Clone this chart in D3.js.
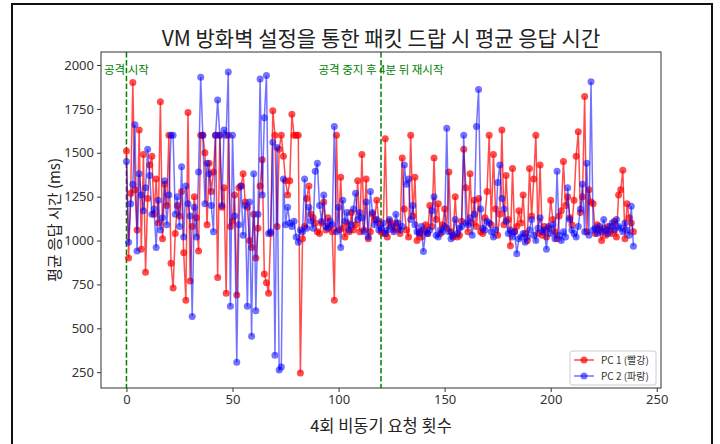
<!DOCTYPE html>
<html>
<head>
<meta charset="utf-8">
<script src="https://cdn.jsdelivr.net/npm/d3@7"></script>
<style>
  body { margin: 0; background: #fff; }
  text { font-family: "Noto Sans CJK KR", "Noto Sans", sans-serif; }
</style>
</head>
<body>
<div id="chart"></div>
<script>
// data (ms per request index 0..239)
const pc1 = [
  1510, 900, 1270, 1900, 1290, 1060, 1630, 950, 1490, 820,
  1240, 1430, 1480, 1150, 1350, 1100, 1790, 1010, 1320, 1200,
  1600, 870, 730, 1040, 1200, 1140, 1280, 930, 660, 1730,
  770, 1080, 1250, 1130, 940, 1600, 1600, 1500, 1090, 1440,
  1280, 1390, 1600, 790, 1600, 1190, 1300, 700, 1600, 1080,
  1110, 1260, 690, 1300, 1310, 1380, 1220, 1190, 1000, 960,
  1150, 900, 1070, 1310, 1460, 810, 760, 700, 1040, 1740,
  1600, 1080, 1520, 1600, 1480, 1340, 1260, 1340, 1720, 1600,
  1600, 1600, 245, 1010, 1080, 1240, 1310, 1150, 1130, 1100,
  1050, 1040, 1100, 1220, 1060, 1130, 1080, 1050, 660, 1600,
  1060, 1360, 1070, 1020, 1100, 1050, 1160, 1060, 1090, 1340,
  1050, 1490, 1060, 1350, 1010, 1050, 1150, 1120, 1230, 1100,
  1050, 1040, 1580, 1020, 1110, 1090, 1060, 1100, 1070, 1040,
  1470, 1180, 1060, 1020, 1600, 1140, 1360, 1000, 1050, 1020,
  1060, 1090, 1040, 1200, 1080, 1470, 1120, 1210, 1040, 1090,
  1180, 1070, 1390, 1050, 1020, 1250, 1020, 1030, 1110, 1520,
  1300, 1050, 1380, 1100, 1230, 1080, 1240, 1050, 1040, 1130,
  1280, 1600, 1090, 1490, 1180, 1030, 1150, 1630, 1090, 1370,
  1120, 970, 1410, 1050, 1080, 1170, 1100, 1260, 1040, 1000,
  1410, 1140, 1350, 1600, 1040, 1430, 1030, 1080, 1020, 1070,
  1230, 1120, 1050, 1010, 1140, 1170, 1450, 1200, 1250, 1130,
  1090, 1230, 1480, 1620, 1160, 1250, 1820, 1050, 1290, 1220,
  1210, 1040, 1090, 1060, 1000, 1070, 1030, 1080, 1060, 1040,
  1110, 1020, 1260, 1290, 1400, 1010, 1210, 1130, 1100, 1050
];
const pc2 = [
  1450, 990, 1210, 1320, 1660, 940, 1380, 1260, 1170, 1300,
  1520, 1370, 1150, 1180, 960, 1230, 1060, 1130, 1340, 1090,
  1260, 1600, 1600, 1150, 1250, 1080, 1420, 1020, 1310, 1210,
  1140, 568, 1190, 1020, 1390, 1930, 1600, 1210, 1440, 1380,
  1200, 1050, 1600, 1800, 1600, 1200, 1630, 1600, 1960, 625,
  1600, 1140, 307, 1090, 1310, 1030, 1200, 625, 1220, 455,
  1380, 600, 1150, 1920, 1260, 1700, 1940, 1040, 1050, 1560,
  347, 1530, 262, 280, 1350, 1090, 1190, 1100, 1080, 1110,
  1020, 990, 1060, 1050, 1350, 1070, 1190, 1110, 1070, 1395,
  1440, 1200, 1110, 1260, 1080, 1070, 1110, 1090, 1650, 1050,
  1190, 960, 1230, 1110, 1160, 1060, 1090, 1180, 1270, 1120,
  1160, 1130, 1050, 1220, 1020, 1280, 1160, 1090, 1120, 1060,
  1070, 1100, 1040, 1060, 1120, 1080, 1050, 1150, 1100, 1060,
  1080, 1430, 1320, 1350, 1120, 1200, 1090, 1050, 1040, 1080,
  937, 1050, 1040, 1060, 1170, 1250, 1030, 1020, 1060, 1050,
  1080, 1640, 1050, 1010, 1030, 1120, 1040, 1070, 1080, 1600,
  1100, 1090, 1130, 1030, 1150, 1650, 1860, 1180, 1070, 1060,
  1110, 1100, 1050, 1020, 1060, 1330, 1430, 1240, 1180, 1110,
  1040, 1060, 1020, 1050, 925, 1010, 1020, 1040, 990, 1020,
  1060, 1120, 1030, 1000, 1070, 1130, 1050, 1060, 950, 1080,
  1040, 1090, 1010, 1395, 1030, 1000, 1050, 1020, 1300, 1120,
  1060, 1040, 1020, 1080, 1180, 1320, 1050, 1440, 1030, 1905,
  1060, 1070, 1040, 1080, 1050, 1120, 1060, 1040, 1080, 1100,
  1060, 1120, 1080, 1070, 1050, 1100, 1060, 1030, 1195, 968
];
const xTicks = [0, 50, 100, 150, 200, 250];
const yTicks = [250, 500, 750, 1000, 1250, 1500, 1750, 2000];
const markers = [
  { x: 0, label: "공격 시작" },
  { x: 120, label: "공격 중지 후 4분 뒤 재시작" }
];
const seriesNames = ["PC 1 (빨강)", "PC 2 (파랑)"];

const width = 720, height = 444;
const margin = { top: 52, right: 59, bottom: 56, left: 101 };

const svg = d3.select("#chart").append("svg")
  .attr("width", width)
  .attr("height", height);

// outer frame of the screenshot
svg.append("rect")
  .attr("x", 12).attr("y", 4)
  .attr("width", 700).attr("height", 460)
  .attr("fill", "none")
  .attr("stroke", "#111")
  .attr("stroke-width", 2);

const x = d3.scaleLinear().domain([-12, 252]).range([margin.left, width - margin.right]);
const y = d3.scaleLinear().domain([160, 2074]).range([height - margin.bottom, margin.top]);

// axes
const xAxis = svg.append("g")
  .attr("transform", `translate(0, ${height - margin.bottom})`)
  .call(d3.axisBottom(x).tickValues(xTicks).tickSize(4).tickPadding(3));
const yAxis = svg.append("g")
  .attr("transform", `translate(${margin.left}, 0)`)
  .call(d3.axisLeft(y).tickValues(yTicks).tickFormat(d3.format("d")).tickSize(4).tickPadding(3));
[xAxis, yAxis].forEach(g => {
  g.select(".domain").remove();
  g.selectAll("line").attr("stroke", "#333");
  g.selectAll("text").attr("font-size", 13).attr("fill", "#333")
    .style("font-family", "'Noto Sans', sans-serif");
});

// dashed markers + labels
markers.forEach(m => {
  svg.append("line")
    .attr("x1", x(m.x)).attr("x2", x(m.x))
    .attr("y1", margin.top).attr("y2", height - margin.bottom)
    .attr("stroke", "green")
    .attr("stroke-width", 1.5)
    .attr("stroke-dasharray", "5.5,2.4");
  svg.append("text")
    .attr("x", x(m.x)).attr("y", y(1950))
    .attr("text-anchor", "middle")
    .attr("font-size", 11.5)
    .attr("fill", "green")
    .text(m.label);
});

const line = d3.line().x((d, i) => x(i)).y(d => y(d));

function drawSeries(data, color, alpha) {
  svg.append("path")
    .datum(data)
    .attr("fill", "none")
    .attr("stroke", color)
    .attr("stroke-opacity", alpha)
    .attr("stroke-width", 1.5)
    .attr("d", line);
  svg.append("g").selectAll("circle")
    .data(data)
    .join("circle")
    .attr("cx", (d, i) => x(i))
    .attr("cy", d => y(d))
    .attr("r", 3.5)
    .attr("fill", color)
    .attr("fill-opacity", alpha);
}
drawSeries(pc1, "#ff0000", 0.7);
drawSeries(pc2, "#0000ff", 0.55);

// plot frame
svg.append("rect")
  .attr("x", margin.left).attr("y", margin.top)
  .attr("width", width - margin.left - margin.right)
  .attr("height", height - margin.top - margin.bottom)
  .attr("fill", "none")
  .attr("stroke", "#333")
  .attr("stroke-width", 1);

// title and axis labels
svg.append("text")
  .attr("x", (margin.left + width - margin.right) / 2).attr("y", 46)
  .attr("text-anchor", "middle")
  .attr("font-size", 21)
  .attr("fill", "#222")
  .text("VM 방화벽 설정을 통한 패킷 드랍 시 평균 응답 시간");
svg.append("text")
  .attr("x", (margin.left + width - margin.right) / 2).attr("y", 432)
  .attr("text-anchor", "middle")
  .attr("font-size", 16.5)
  .attr("fill", "#222")
  .text("4회 비동기 요청 횟수");
svg.append("text")
  .attr("transform", `translate(60, ${(margin.top + height - margin.bottom) / 2}) rotate(-90)`)
  .attr("text-anchor", "middle")
  .attr("font-size", 15)
  .attr("fill", "#222")
  .text("평균 응답 시간 (ms)");

// legend
const legend = svg.append("g").attr("transform", "translate(570, 351)");
legend.append("rect")
  .attr("width", 86).attr("height", 34).attr("rx", 2)
  .attr("fill", "#fff").attr("fill-opacity", 0.8)
  .attr("stroke", "#ccc");
[["#ff0000", 0.7], ["#0000ff", 0.55]].forEach(([c, a], i) => {
  const gy = 9 + i * 16;
  legend.append("line")
    .attr("x1", 4).attr("x2", 24).attr("y1", gy).attr("y2", gy)
    .attr("stroke", c).attr("stroke-opacity", a).attr("stroke-width", 1.5);
  legend.append("circle")
    .attr("cx", 14).attr("cy", gy).attr("r", 3.5)
    .attr("fill", c).attr("fill-opacity", a);
  legend.append("text")
    .attr("x", 31).attr("y", gy + 3.5)
    .attr("font-size", 10)
    .attr("fill", "#333")
    .text(seriesNames[i]);
});
</script>
</body>
</html>
